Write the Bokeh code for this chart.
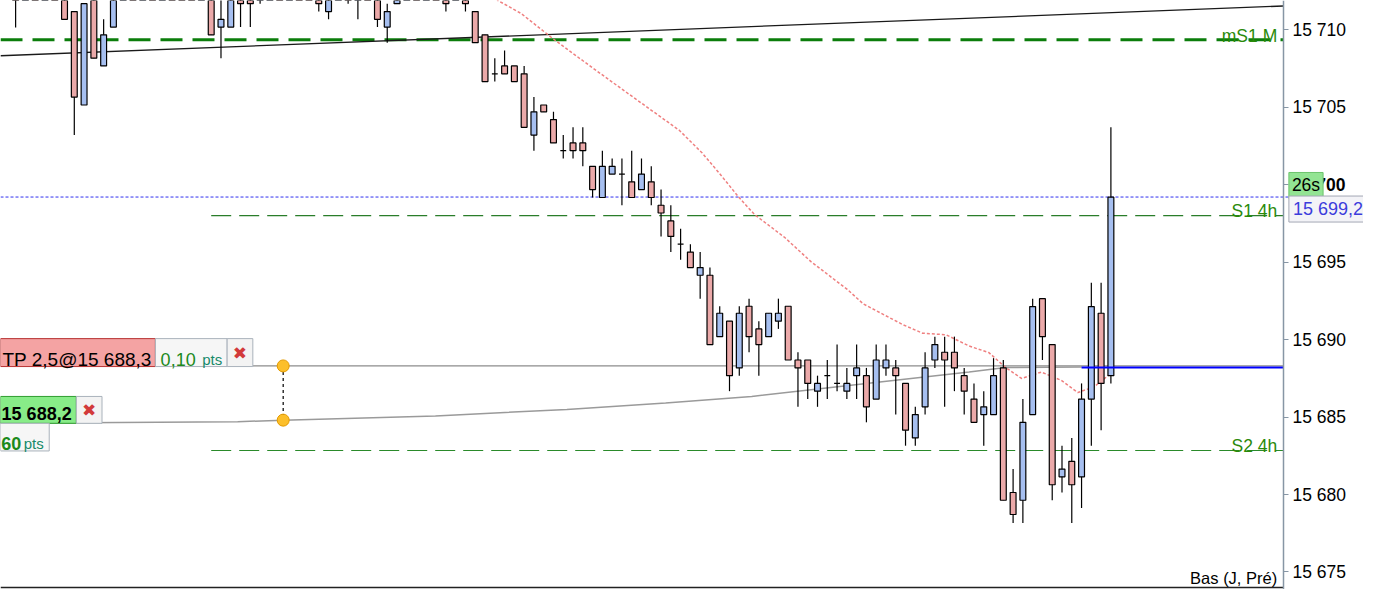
from bokeh.plotting import figure
from bokeh.models import Range1d, FixedTicker, Label, ColumnDataSource, LinearAxis
from bokeh.embed import file_html
from bokeh.resources import INLINE

# ---------------- data ----------------
OPEN = [15713.6, 15712.9, 15714.5, 15713.8, 15714.6, 15713.2, 15711.17, 15705.14, 15713.0, 15707.66,
        15710.17, 15713.0, 15714.0, 15713.5, 15715.6, 15715.0, 15716.4, 15715.4, 15714.1, 15713.4,
        15714.0, 15710.17, 15710.17, 15713.2, 15712.9, 15712.5, 15713.1, 15713.9, 15713.3, 15713.8,
        15713.2, 15712.6, 15711.17, 15712.9, 15713.5, 15712.6, 15713.4, 15712.3, 15710.17, 15711.68,
        15712.9, 15713.4, 15712.9, 15713.3, 15712.5, 15712.9, 15712.4, 15711.17, 15709.67, 15707.15,
        15707.66, 15707.66, 15707.15, 15703.20, 15705.14, 15704.20, 15702.19, 15702.69, 15702.69, 15701.18,
        15699.17, 15700.68, 15700.68, 15700.18, 15699.68, 15700.18, 15698.67, 15697.66, 15696.16, 15695.65,
        15694.15, 15694.15, 15690.19, 15691.19, 15688.17, 15692.15, 15690.69, 15690.19, 15691.19, 15692.15,
        15688.68, 15688.68, 15686.67, 15687.67, 15687.17, 15686.67, 15687.67, 15687.67, 15686.16, 15688.17,
        15688.17, 15687.17, 15683.65, 15685.66, 15688.68, 15689.18, 15689.18, 15687.67, 15686.16, 15685.16,
        15685.16, 15688.17, 15680.13, 15679.63, 15685.16, 15692.64, 15689.68, 15681.14, 15682.14, 15681.14,
        15686.16, 15691.70, 15687.67]
HIGH = [15714.2, 15715.0, 15716.0, 15715.2, 15715.5, 15713.8, 15711.17, 15711.68, 15713.4, 15710.67,
        15713.8, 15714.6, 15715.4, 15716.2, 15716.8, 15717.0, 15717.5, 15716.0, 15714.8, 15714.6,
        15714.5, 15712.6, 15713.4, 15713.8, 15713.5, 15713.6, 15714.4, 15714.8, 15714.2, 15714.5,
        15713.9, 15713.2, 15713.4, 15714.0, 15714.1, 15713.3, 15713.9, 15712.9, 15711.68, 15713.2,
        15713.8, 15714.0, 15713.9, 15713.7, 15713.0, 15713.3, 15712.9, 15711.17, 15709.67, 15708.16,
        15708.66, 15707.66, 15707.66, 15705.65, 15705.14, 15704.70, 15703.20, 15703.70, 15703.70, 15701.18,
        15702.19, 15701.69, 15701.69, 15702.19, 15701.69, 15701.18, 15699.68, 15698.67, 15697.16, 15696.16,
        15695.65, 15694.65, 15692.15, 15691.19, 15692.15, 15692.64, 15691.19, 15691.70, 15692.64, 15692.15,
        15689.18, 15688.68, 15687.67, 15688.68, 15689.68, 15688.17, 15689.68, 15688.17, 15689.68, 15689.68,
        15688.68, 15687.17, 15685.66, 15689.18, 15690.19, 15690.19, 15690.19, 15688.17, 15687.17, 15686.67,
        15688.80, 15688.68, 15681.64, 15686.16, 15692.64, 15692.64, 15689.68, 15683.15, 15683.65, 15687.17,
        15693.66, 15693.66, 15703.70]
LOW = [15710.14, 15712.7, 15713.4, 15712.8, 15712.9, 15710.67, 15703.20, 15705.14, 15708.16, 15707.66,
       15710.17, 15712.7, 15713.1, 15713.0, 15714.5, 15714.2, 15715.0, 15713.6, 15712.8, 15712.8,
       15709.67, 15708.16, 15710.17, 15710.17, 15710.17, 15711.68, 15712.7, 15712.9, 15712.8, 15712.9,
       15712.8, 15711.17, 15710.67, 15712.8, 15711.68, 15710.67, 15712.7, 15710.17, 15709.16, 15711.68,
       15712.8, 15712.8, 15712.8, 15712.7, 15711.17, 15712.6, 15711.17, 15709.16, 15706.65, 15706.65,
       15707.15, 15706.65, 15703.70, 15702.19, 15704.70, 15702.69, 15701.69, 15701.69, 15701.18, 15699.17,
       15699.17, 15700.68, 15698.67, 15699.17, 15699.68, 15698.67, 15696.66, 15695.65, 15695.15, 15694.65,
       15692.64, 15689.68, 15690.19, 15686.67, 15687.67, 15689.18, 15687.67, 15690.19, 15690.69, 15688.68,
       15685.66, 15686.16, 15685.66, 15686.16, 15686.67, 15686.16, 15686.16, 15684.66, 15686.16, 15687.67,
       15685.16, 15683.15, 15683.15, 15685.16, 15688.17, 15685.66, 15686.67, 15685.16, 15684.66, 15683.15,
       15685.16, 15679.63, 15678.16, 15678.16, 15685.16, 15688.68, 15679.63, 15680.13, 15678.16, 15679.13,
       15683.15, 15684.15, 15687.17]
CLOSE = [15712.8, 15714.5, 15713.8, 15714.6, 15713.2, 15710.67, 15705.65, 15711.68, 15708.16, 15709.67,
         15713.0, 15714.0, 15713.5, 15715.6, 15715.0, 15716.4, 15715.4, 15714.1, 15713.4, 15714.0,
         15709.67, 15710.67, 15712.9, 15711.68, 15711.68, 15713.1, 15713.9, 15713.3, 15713.8, 15713.0,
         15712.9, 15711.68, 15712.8, 15713.5, 15712.6, 15712.9, 15712.9, 15710.67, 15711.17, 15712.7,
         15713.4, 15712.9, 15713.3, 15712.9, 15711.68, 15713.0, 15711.68, 15709.16, 15706.65, 15707.15,
         15707.15, 15706.65, 15703.70, 15704.70, 15704.70, 15702.69, 15702.19, 15702.19, 15702.19, 15699.68,
         15701.18, 15701.18, 15700.68, 15699.17, 15700.68, 15699.17, 15698.17, 15696.66, 15696.16, 15694.65,
         15694.65, 15689.68, 15691.70, 15687.67, 15691.70, 15690.19, 15689.68, 15691.70, 15691.70, 15688.68,
         15688.17, 15687.17, 15687.17, 15687.67, 15687.17, 15687.17, 15688.17, 15685.66, 15688.68, 15688.68,
         15687.67, 15684.15, 15685.16, 15688.17, 15689.68, 15688.68, 15688.17, 15686.67, 15684.66, 15685.66,
         15687.67, 15679.63, 15678.71, 15684.66, 15692.13, 15690.19, 15680.63, 15681.64, 15680.63, 15686.16,
         15692.13, 15687.17, 15699.19]

# moving average (red dotted), read at bar positions
MA_IDX = [47.0, 49.32, 51.69, 55.05, 59.10, 63.47, 67.86, 70.21, 71.90, 73.92, 75.57, 78.63, 81.33,
          85.04, 86.69, 90.73, 92.75, 95.15, 97.51, 99.52, 101.21, 102.86, 104.88, 106.90, 108.62,
          110.31, 111.96]
MA_VAL = [15713.8, 15711.885, 15711.05, 15709.37, 15707.49, 15705.50, 15703.51, 15702.04, 15700.78,
          15699.21, 15698.06, 15696.60, 15695.03, 15693.24, 15692.30, 15690.96, 15690.41, 15690.31,
          15689.58, 15689.16, 15688.21, 15687.49, 15687.90, 15687.38, 15686.58, 15686.96, 15687.80]

# grey curved projection line
CURVE_IDX = [-1.55, 22.71, 27.36, 42.93, 56.37, 66.47, 75.27, 87.0, 97.5, 101.24, 109.03]
CURVE_VAL = [15684.60, 15684.70, 15684.80, 15685.07, 15685.49, 15685.91, 15686.33, 15687.17,
             15687.91, 15688.20, 15688.23]

# black trend line
TREND_IDX = [-1.55, 129.64]
TREND_VAL = [15708.32, 15711.53]

MS1_M = 15709.35
S1_4H = 15698.0
S2_4H = 15682.84
LAST = 15699.2
TP = 15688.3
ENTRY = 15688.2
LEVELS_START = 20.0       # bar where the 4h pivot lines start
ENTRY_LINE_START = 109.0  # bar where the blue entry line starts
MARKER_IDX = 27.36

TICKS = [15675, 15680, 15685, 15690, 15695, 15700, 15705, 15710]
TICK_LABELS = ["15 675", "15 680", "15 685", "15 690", "15 695", "15 700", "15 705", "15 710"]

# ---------------- reference-pixel helpers (for annotation placement) ----------------
CX0, DX = 15.3, 9.894
Y0, PPU, VREF = 30.0, 15.914, 15710.0


def px_x(px):
    return (px - CX0) / DX


def px_y(py):
    return VREF - (py - Y0) / PPU


X_START, X_END = px_x(0), px_x(1379)
AX_X = px_x(1298)                 # price-axis position
Y_BOT, Y_TOP = px_y(605), px_y(0)

FONT = "Liberation Sans"

p = figure(frame_width=1363, frame_height=589, output_backend="svg", toolbar_location=None,
           x_axis_location=None, y_axis_location=None,
           x_range=Range1d(X_START, X_END), y_range=Range1d(Y_BOT, Y_TOP),
           min_border_left=0, min_border_top=0, min_border_bottom=0, min_border_right=0)
p.outline_line_color = None
p.xgrid.visible = False
p.ygrid.visible = False
p.background_fill_color = "white"
p.border_fill_color = "white"

ax = LinearAxis(fixed_location=AX_X)
ax.ticker = FixedTicker(ticks=TICKS)
ax.major_label_overrides = {t: (l if t != 15700 else "") for t, l in zip(TICKS, TICK_LABELS)}
ax.major_label_text_font = FONT
ax.major_label_text_font_size = "17.5px"
ax.major_label_text_color = "black"
ax.axis_line_color = "#8796a5"
ax.axis_line_width = 1.5
ax.major_tick_line_color = "#8796a5"
ax.major_tick_out = 5
ax.major_tick_in = 0
ax.minor_tick_line_color = None
ax.major_label_standoff = 4
p.add_layout(ax, "right")

# ---------------- horizontal levels ----------------
p.line([X_START, AX_X], [MS1_M, MS1_M], line_color="#0b7d0b", line_width=3, line_dash="22 10")
p.line([X_START, px_x(1303)], [LAST, LAST], line_color="#2f2ff0", line_width=1, line_dash="3 2")
p.line([LEVELS_START, AX_X], [S1_4H, S1_4H], line_color="#2a7d2a", line_width=1.2, line_dash="20 8")
p.line([LEVELS_START, AX_X], [S2_4H, S2_4H], line_color="#2a8a2a", line_width=1.2, line_dash="20 8")
p.line([X_START, AX_X], [px_y(603), px_y(603)], line_color="#222222", line_width=1.5)

# trend line
p.line(TREND_IDX, TREND_VAL, line_color="#1a1a1a", line_width=1.3)

# grey TP line and projection curve
p.line([px_x(255.3), AX_X], [TP, TP], line_color="#8c8c8c", line_width=1.4)
p.line(CURVE_IDX, CURVE_VAL, line_color="#9a9a9a", line_width=1.5)

# moving average
p.line(MA_IDX, MA_VAL, line_color="#ef8080", line_width=1.5, line_dash="3 2")

# ---------------- candles ----------------
idx = list(range(len(OPEN)))
colors = ["#a6bff0" if c >= o else "#eba9a9" for o, c in zip(OPEN, CLOSE)]
src = ColumnDataSource(dict(x=idx, o=OPEN, h=HIGH, l=LOW, c=CLOSE,
                            top=[max(o, c) for o, c in zip(OPEN, CLOSE)],
                            bot=[min(o, c) for o, c in zip(OPEN, CLOSE)],
                            col=colors))
p.segment(x0="x", y0="h", x1="x", y1="l", source=src, line_color="black", line_width=1.2)
p.vbar(x="x", top="top", bottom="bot", width=0.6, source=src, fill_color="col",
       line_color="black", line_width=1.2)

# blue entry line
p.line([ENTRY_LINE_START, AX_X], [ENTRY, ENTRY], line_color="#0000ff", line_width=2)

# ---------------- order boxes (left) ----------------
box_l = [px_x(0), px_x(156.7), px_x(229.3), px_x(0), px_x(76.7), px_x(0)]
box_r = [px_x(156.7), px_x(229.3), px_x(255.3), px_x(76.7), px_x(102.7), px_x(49.3)]
box_t = [px_y(347.3), px_y(347.3), px_y(347.3), px_y(406.7), px_y(406.7), px_y(434.3)]
box_b = [px_y(376), px_y(376), px_y(376), px_y(434.3), px_y(434.3), px_y(462.7)]
box_f = ["#f4a3a3", "#f6f6f6", "#f3f3f3", "#88ec88", "#f3f3f3", "#f6f6f6"]
box_c = ["#b83434", "#a9b2bb", "#a9b2bb", "#2f9d2f", "#a9b2bb", "#a9b2bb"]
p.quad(left=box_l, right=box_r, top=box_t, bottom=box_b, fill_color=box_f, line_color=box_c,
       line_width=1)

# dashed connector and yellow handles
p.line([MARKER_IDX, MARKER_IDX], [TP, CURVE_VAL[2]], line_color="black", line_width=1.2,
       line_dash="3 3")
p.scatter([MARKER_IDX, MARKER_IDX], [TP, CURVE_VAL[2]], size=12, fill_color="#fcbf2a",
          line_color="#e49b00", line_width=1)


def lab(text, px, py, size, color="black", align="left", baseline="alphabetic", style="normal",
        font=FONT, **kw):
    p.add_layout(Label(x=px_x(px), y=px_y(py), text=text, text_font=font,
                       text_font_size=f"{size}px", text_color=color, text_align=align,
                       text_baseline=baseline, text_font_style=style, **kw))


lab("TP 2,5@15 688,3", 153, 369, 19, align="right")
lab("0,10", 162, 369, 18, color="#1c8a1c")
lab("pts", 204, 369, 15, color="#168a6a")
lab("\u2716", 242.3, 362, 17, color="#d23a3a", align="center", baseline="middle", font="DejaVu Sans")
lab("15 688,2", 72, 425, 18, align="right", style="bold")
lab("\u2716", 89.7, 421, 17, color="#d23a3a", align="center", baseline="middle", font="DejaVu Sans")
lab("60", 21, 455, 18, color="#1c8a1c", align="right", style="bold")
lab("pts", 23.5, 455, 15, color="#168a6a")

# level labels
lab("mS1 M", 1291.7, 36, 17.5, color="#2a8a0a", align="right")
lab("S1 4h", 1291.7, 216, 17.5, color="#2a8a0a", align="right")
lab("S2 4h", 1291.7, 457.3, 17.5, color="#2a8a0a", align="right")
lab("Bas (J, Pr\u00e9)", 1291.7, 593.5, 16.5, align="right")

# right-axis badges
lab("15 700", 1306.7, 189.6, 17.5, baseline="middle", style="bold")
lab("26s", 1303.5, 190, 17.5, baseline="middle", background_fill_color="#93e493",
    border_line_color="#6cc46c", padding=(3, 3))
lab("15 699,2", 1303.5, 214.2, 18, color="#3c3cdc", baseline="middle",
    background_fill_color="#f3f3f7", border_line_color="#a4a8b4", padding=(4, 3))

open("out.html", "w").write(file_html(p, INLINE))
